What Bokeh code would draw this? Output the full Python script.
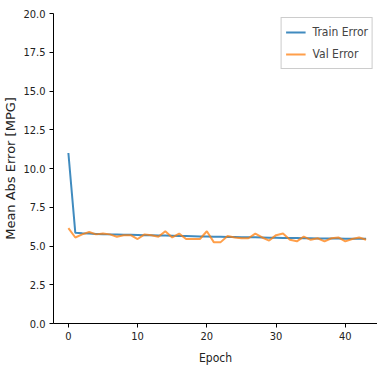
from bokeh.plotting import figure
from bokeh.models import Range1d, FixedTicker, NumeralTickFormatter, Legend, LegendItem
from bokeh.embed import file_html
from bokeh.resources import INLINE

epochs = list(range(44))
train_error = [11.0, 5.85, 5.82, 5.8, 5.78, 5.76, 5.75, 5.74, 5.73, 5.72, 5.71, 5.7, 5.69, 5.68, 5.67,
               5.66, 5.65, 5.64, 5.63, 5.62, 5.61, 5.6, 5.59, 5.58, 5.58, 5.57, 5.56, 5.56, 5.55, 5.54,
               5.53, 5.52, 5.52, 5.51, 5.5, 5.5, 5.49, 5.49, 5.48, 5.48, 5.47, 5.47, 5.46, 5.46]
val_error = [6.15, 5.55, 5.75, 5.9, 5.75, 5.8, 5.75, 5.6, 5.7, 5.7, 5.45, 5.75, 5.7, 5.6, 5.95,
             5.55, 5.8, 5.45, 5.45, 5.45, 5.95, 5.25, 5.25, 5.65, 5.55, 5.5, 5.5, 5.8, 5.55, 5.35,
             5.7, 5.8, 5.4, 5.3, 5.6, 5.4, 5.5, 5.3, 5.5, 5.55, 5.3, 5.45, 5.55, 5.4]
y_ticks = [0, 2.5, 5, 7.5, 10, 12.5, 15, 17.5, 20]
x_ticks = [0, 10, 20, 30, 40]

p = figure(frame_width=324, frame_height=310, output_backend="svg", toolbar_location=None,
           x_range=Range1d(-2.15, 44.65), y_range=Range1d(0, 20),
           min_border_left=45, min_border_right=0, min_border_top=13, min_border_bottom=0)
p.outline_line_color = None
p.xgrid.visible = False
p.ygrid.visible = False

tick_font = "'DejaVu Sans Condensed', 'Liberation Sans', sans-serif"
for ax in (p.xaxis[0], p.yaxis[0]):
    ax.major_label_text_font = tick_font
    ax.major_label_text_font_size = "11px"
    ax.major_label_text_color = "#222222"
    ax.axis_label_text_font_style = "normal"
    ax.axis_label_text_color = "#222222"
    ax.minor_tick_line_color = None
    ax.major_tick_in = 0
    ax.major_tick_out = 4
    ax.axis_line_color = "black"
    ax.major_tick_line_color = "black"
    ax.major_label_standoff = 4

p.xaxis.ticker = FixedTicker(ticks=x_ticks)
p.yaxis.ticker = FixedTicker(ticks=y_ticks)
p.yaxis.formatter = NumeralTickFormatter(format="0.0")
p.xaxis.axis_label = "Epoch"
p.xaxis.axis_label_text_font = tick_font
p.xaxis.axis_label_text_font_size = "12px"
p.xaxis.axis_label_standoff = 8
p.yaxis.axis_label = "Mean Abs Error [MPG]"
p.yaxis.axis_label_text_font = "DejaVu Sans"
p.yaxis.axis_label_text_font_size = "13px"
p.yaxis.axis_label_standoff = 2

r1 = p.line(epochs, train_error, line_color="#1f77b4", line_width=2, line_alpha=0.85)
r2 = p.line(epochs, val_error, line_color="#ff7f0e", line_width=2, line_alpha=0.75)

legend = Legend(items=[LegendItem(label="Train Error", renderers=[r1]),
                       LegendItem(label="Val Error", renderers=[r2])],
                location="top_right")
legend.label_text_font = tick_font
legend.label_text_font_size = "12px"
legend.border_line_color = "#cccccc"
legend.border_line_alpha = 1
legend.background_fill_alpha = 0.9
legend.glyph_width = 20
legend.spacing = 2
legend.padding = 4
legend.margin = 4
legend.label_standoff = 7
p.add_layout(legend)

open("out.html", "w").write(file_html(p, INLINE))
